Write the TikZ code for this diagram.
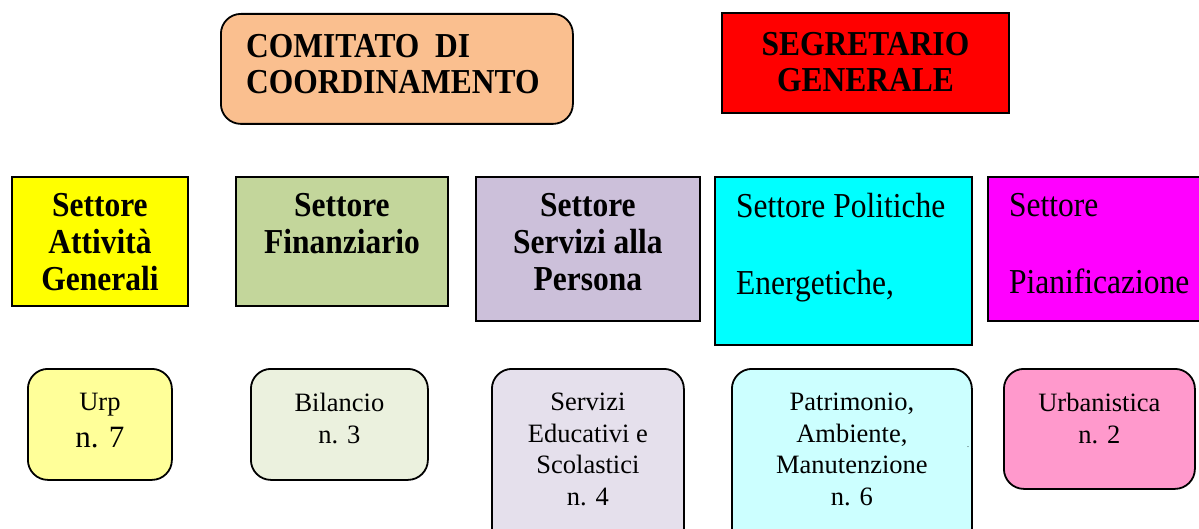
\documentclass[tikz,border=0pt]{standalone}
\usepackage{fontspec}
\setmainfont{Liberation Serif}
\newfontfamily\narrowfont[FakeStretch=0.9]{Liberation Serif}

\definecolor{peach}{HTML}{FABF8F}
\definecolor{redbox}{HTML}{FF0000}
\definecolor{yellowbox}{HTML}{FFFF00}
\definecolor{olivebox}{HTML}{C3D69B}
\definecolor{lilacbox}{HTML}{CCC0DA}
\definecolor{cyanbox}{HTML}{00FFFF}
\definecolor{magentabox}{HTML}{FF00FF}
\definecolor{urpbox}{HTML}{FFFF99}
\definecolor{bilbox}{HTML}{EBF1DE}
\definecolor{servbox}{HTML}{E5E0EC}
\definecolor{patrbox}{HTML}{CCFFFF}
\definecolor{urbbox}{HTML}{FF99CC}

\begin{document}
\begin{tikzpicture}[x=1pt,y=-1pt]

      %box and text styles
      \tikzset{
      box/.style={draw=black, line width=1.8pt, rectangle, anchor=north west, inner sep=0pt},
      rbox/.style={box, rounded corners=20pt},
      headl/.style={anchor=north west, inner sep=0pt, align=left,
        font=\bfseries\narrowfont\fontsize{35}{36}\selectfont, xshift=26pt, yshift=-21pt},
      head/.style={anchor=north, inner sep=0pt, align=center,
        font=\bfseries\narrowfont\fontsize{35}{36}\selectfont, yshift=-20pt},
      sect/.style={anchor=north, inner sep=0pt, align=center,
        font=\bfseries\narrowfont\fontsize{35}{37}\selectfont, yshift=-17pt},
      sectl/.style={anchor=north west, inner sep=0pt, align=left,
        font=\narrowfont\fontsize{35}{38.5}\selectfont, xshift=22pt, yshift=-17pt},
      uff/.style={anchor=north, inner sep=0pt, align=center,
        font=\fontsize{26.5}{31.5}\selectfont, yshift=-25pt},
      }

      \path[use as bounding box, clip] (0,0) rectangle (1199,529);

      %top
      \node[rbox, fill=peach, minimum width=352, minimum height=110,
        label={[headl]north west:{COMITATO\ \ DI\\COORDINAMENTO}}] (comitato) at (220,13) {};
      \node[box, fill=redbox, minimum width=287, minimum height=100,
        label={[head]north:{SEGRETARIO\\GENERALE}}] (segretario) at (721,12) {};

      %settori
      \node[box, fill=yellowbox, minimum width=176, minimum height=129,
        label={[sect]north:{Settore\\Attività\\Generali}}] (attivita) at (11,176) {};
      \node[box, fill=olivebox, minimum width=212, minimum height=129,
        label={[sect]north:{Settore\\Finanziario}}] (finanziario) at (235,176) {};
      \node[box, fill=lilacbox, minimum width=224, minimum height=144,
        label={[sect]north:{Settore\\Servizi alla\\Persona}}] (persona) at (475,176) {};
      \node[box, fill=cyanbox, minimum width=257, minimum height=168,
        label={[sectl]north west:{Settore Politiche\\ \\Energetiche,}}] (energetiche) at (714,176) {};
      \node[box, fill=magentabox, minimum width=230, minimum height=144,
        label={[sectl]north west:{Settore\\ \\Pianificazione}}] (pianificazione) at (987,176) {};

      %uffici
      \node[rbox, fill=urpbox, minimum width=144, minimum height=111,
        label={[uff]north:{Urp\\[5pt]{\fontsize{31}{31}\selectfont n. 7}}}] (urp) at (27,368) {};
      \node[rbox, fill=bilbox, minimum width=177, minimum height=111,
        label={[uff]north:{Bilancio\\n. 3}}] (bilancio) at (250,368) {};
      \node[rbox, fill=servbox, minimum width=192, minimum height=180,
        label={[uff]north:{Servizi\\Educativi e\\Scolastici\\n. 4}}] (servizi) at (491,368) {};
      \node[rbox, fill=patrbox, minimum width=240, minimum height=180,
        label={[uff]north:{Patrimonio,\\Ambiente,\\Manutenzione\\n. 6}}] (patrimonio) at (731,368) {};
      \node[rbox, fill=urbbox, minimum width=191, minimum height=120,
        label={[uff]north:{Urbanistica\\n. 2}}] (urbanistica) at (1003,368) {};

      %stray dot
      \node[inner sep=0pt, font=\fontsize{8}{8}\selectfont] (dot) at (968,447) {.};
    \end{tikzpicture}
\end{document}
